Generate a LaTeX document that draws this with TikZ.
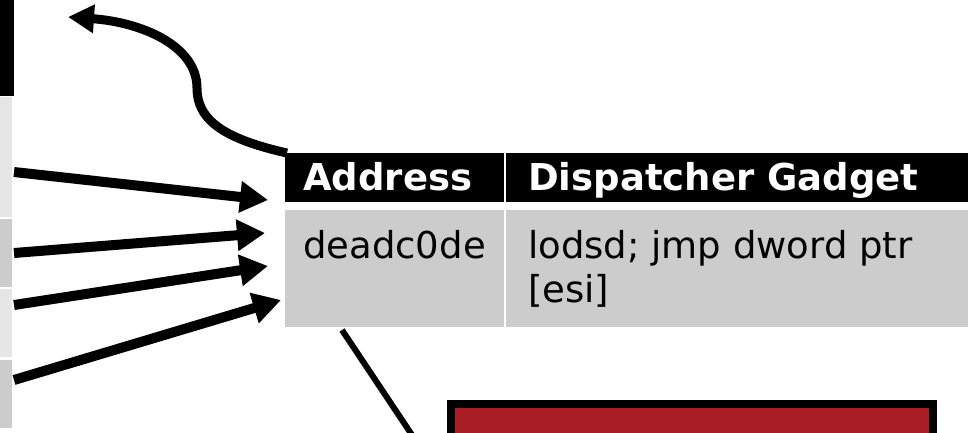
\documentclass[tikz,border=0pt]{standalone}
\usepackage{fontspec}
\setmainfont{DejaVu Sans}
\usetikzlibrary{arrows.meta}
\definecolor{cellA}{HTML}{E6E6E6}
\definecolor{cellB}{HTML}{CCCCCC}
\definecolor{boxred}{HTML}{A81E24}
\begin{document}
\begin{tikzpicture}[x=1pt, y=-1pt,
  hdtext/.style={anchor=base west, inner sep=0, text=white, font=\fontsize{37}{44}\selectfont\bfseries},
  celltext/.style={anchor=base west, inner sep=0, align=left, font=\fontsize{37}{44}\selectfont},
  stackcell/.style={inner sep=0, anchor=north west, minimum width=12pt},
  bigarrow/.style={line width=10pt, -{Triangle[length=28pt, width=30pt]}}]
\useasboundingbox (0,0) rectangle (968,432);
\fill[white] (0,0) rectangle (968,432);

% stack on the left
\fill[black] (0,0) rectangle (14,96);
\node[stackcell, fill=cellA, minimum height=120pt] (row1) at (0,97) {};
\node[stackcell, fill=cellB, minimum height=68pt] (row2) at (0,219) {};
\node[stackcell, fill=cellA, minimum height=68pt] (row3) at (0,289) {};
\node[stackcell, fill=cellB, minimum height=68pt] (row4) at (0,360) {};

% table
\fill[black] (285,153) rectangle (504,202);
\fill[black] (506,153) rectangle (975,202);
\fill[cellB] (285,210) rectangle (504,327);
\fill[cellB] (506,210) rectangle (975,327);
\node[hdtext] (hdaddr) at (303,190) {Address};
\node[hdtext] (hdgadget) at (528,190) {Dispatcher Gadget};
\node[celltext] (addr) at (303,258) {deadc0de};
\node[celltext] (gadget) at (528,302) {lodsd; jmp dword ptr\\{}[esi]};

% red box
\draw[line width=8pt, fill=boxred] (451,404) rectangle (933,470);

% arrows
\coordinate (s1) at (14,172);
\coordinate (s2) at (14,253);
\coordinate (s3) at (14,305);
\coordinate (s4) at (14,380);
\coordinate (t1) at (268,200);
\coordinate (t2) at (265,233);
\coordinate (t3) at (268,266);
\coordinate (t4) at (281,300);
\draw[bigarrow] (s1) -- (t1);
\draw[bigarrow] (s2) -- (t2);
\draw[bigarrow] (s3) -- (t3);
\draw[bigarrow] (s4) -- (t4);

\coordinate (back) at (68,17);
\draw[line width=9pt, -{Triangle[length=26pt, width=27pt]}] (287,153) .. controls (220,138) and (197,118) .. (197,88) .. controls (197,45) and (140,22) .. (back);

\coordinate (d0) at (342,330);
\coordinate (d1) at (424,453);
\draw[line width=6pt] (d0) -- (d1);
\end{tikzpicture}
\end{document}
